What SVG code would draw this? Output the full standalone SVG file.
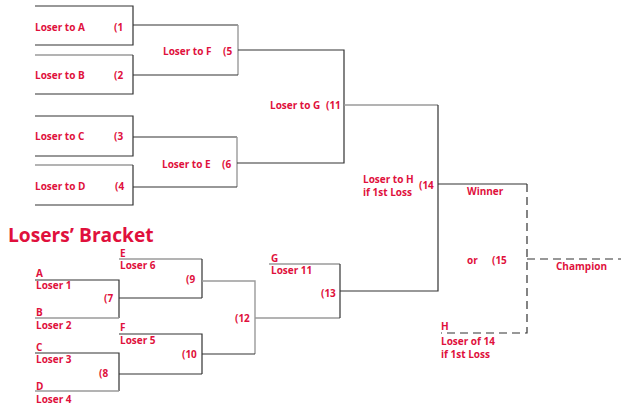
<svg xmlns="http://www.w3.org/2000/svg" width="640" height="414" viewBox="0 0 640 414">
<style>
text{font-family:"Open Sans","Noto Sans","Liberation Sans",sans-serif;font-weight:700;font-size:10px;fill:#e0103c}
.t{font-size:19.2px}
.d{stroke:#333;stroke-width:1.2;fill:none}
.g{stroke:#9a9a9a;stroke-width:1.4;fill:none}
.x{stroke:#333;stroke-width:1.2;fill:none;stroke-dasharray:8 5}
</style>
<rect width="640" height="414" fill="#fff"/>
<g id="connectors">
<path class="d" d="M35 6H133V45H35"/>
<path class="g" d="M35 55H133"/><path class="d" d="M133 55V94H35"/>
<path class="d" d="M35 116H133V156H35"/>
<path class="g" d="M35 165H133"/><path class="d" d="M133 165V205H35"/>
<path class="d" d="M133 25H238"/><path class="g" d="M238 25V75"/><path class="d" d="M133 75H238"/>
<path class="d" d="M133 137H237"/><path class="g" d="M237 137V187"/><path class="d" d="M133 187H237"/>
<path class="d" d="M238 50H344V163H237"/>
<path class="g" d="M344 105H438"/><path class="d" d="M438 105V291H340"/>
<path class="d" d="M438 184H527"/>
<path class="x" d="M527 184V333H441"/>
<path class="x" d="M527 259H621"/>
<path class="d" d="M35 280H119V318"/><path class="g" d="M35 318H119"/>
<path class="d" d="M119 298H202"/>
<path class="g" d="M119 259H202"/><path class="d" d="M202 259V298"/>
<path class="d" d="M35 353H119V391"/><path class="g" d="M35 391H119"/>
<path class="d" d="M119 374H202"/>
<path class="d" d="M119 334H202V374"/>
<path class="g" d="M202 281H255V354"/><path class="d" d="M202 354H255"/>
<path class="g" d="M255 318H340"/>
<path class="g" d="M269 264H340"/><path class="d" d="M340 264V318"/>
</g>
<g id="g1"><text x="35" y="30.5">Loser to A</text><text x="114" y="30.5">(1</text></g>
<g id="g2"><text x="35" y="79">Loser to B</text><text x="114" y="79">(2</text></g>
<g id="g3"><text x="35" y="140">Loser to C</text><text x="114" y="140">(3</text></g>
<g id="g4"><text x="35" y="189.5">Loser to D</text><text x="115" y="189.5">(4</text></g>
<g id="g5"><text x="163" y="55">Loser to F</text><text x="223" y="55">(5</text></g>
<g id="g6"><text x="162" y="168">Loser to E</text><text x="222" y="168">(6</text></g>
<g id="g11"><text x="270" y="109">Loser to G</text><text x="326" y="109">(11</text></g>
<g id="g14"><text x="363" y="183">Loser to H</text><text x="363" y="196">if 1st Loss</text><text x="419" y="189">(14</text></g>
<g id="g15"><text x="467" y="194.5">Winner</text><text x="467" y="264">or</text><text x="492" y="264">(15</text><text x="556" y="270">Champion</text><text x="441" y="330">H</text><text x="441" y="345">Loser of 14</text><text x="441" y="357.5">if 1st Loss</text></g>
<g id="title"><text class="t" x="8" y="242">Losers’ Bracket</text></g>
<g id="g7"><text x="36" y="276.5">A</text><text x="36" y="289">Loser 1</text><text x="104" y="302">(7</text><text x="36" y="316">B</text><text x="36" y="329">Loser 2</text></g>
<g id="g8"><text x="36" y="350.5">C</text><text x="36" y="363">Loser 3</text><text x="99" y="377">(8</text><text x="36" y="390">D</text><text x="36" y="402.5">Loser 4</text></g>
<g id="g9"><text x="120" y="256.5">E</text><text x="120" y="269">Loser 6</text><text x="186" y="283">(9</text></g>
<g id="g10"><text x="120" y="330.5">F</text><text x="120" y="344">Loser 5</text><text x="182" y="358">(10</text></g>
<g id="g12"><text x="235" y="321.5">(12</text></g>
<g id="g13"><text x="271" y="261.5">G</text><text x="271" y="274">Loser 11</text><text x="321" y="297">(13</text></g>
</svg>
